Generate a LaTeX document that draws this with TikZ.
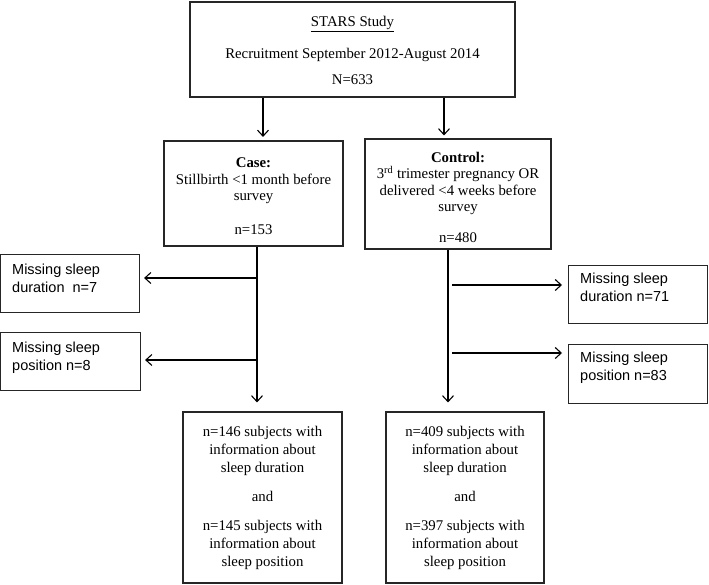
\documentclass[tikz,border=0pt]{standalone}
\usepackage{fontspec}
\setmainfont{Liberation Serif}
\newfontfamily\sansf{Liberation Sans}
\usetikzlibrary{arrows.meta}
\begin{document}
\begin{tikzpicture}[x=1pt,y=-1pt,
  box/.style={draw=black!85,line width=1.1pt,rectangle,inner sep=0pt,align=center,
    font=\fontsize{14.8pt}{16.5pt}\selectfont},
  lowbox/.style={box,font=\fontsize{14.8pt}{18pt}\selectfont},
  mbox/.style={draw=black!85,line width=1.1pt,rectangle,inner sep=0pt,anchor=north west},
  mtext/.style={anchor=north west,inner sep=0pt,align=left,
    font=\sansf\fontsize{14.5pt}{18pt}\selectfont},
  arr/.style={line width=1.1pt,-{Straight Barb[length=6pt,width=11pt,line width=1.1pt]}},
  ln/.style={line width=1pt}]
\useasboundingbox (0,0) rectangle (709,584);

\node[box,minimum width=325pt,minimum height=95pt] (top) at (352.5,49.5)
  {\rule{0pt}{12pt}\underline{STARS Study}\\[15.5pt]Recruitment September 2012-August 2014\\[9.5pt]N=633};

\node[box,minimum width=179pt,minimum height=105pt] (case) at (253.5,193.5)
  {\rule{0pt}{16pt}\textbf{Case:}\\Stillbirth <1 month before\\survey\\[17.5pt]n=153};

\node[box,minimum width=186pt,minimum height=110pt] (ctrl) at (458,194)
  {\rule{0pt}{17pt}\textbf{Control:}\\3\textsuperscript{rd} trimester pregnancy OR\\delivered <4 weeks before\\survey\\[14.5pt]n=480};

\node[lowbox,minimum width=159pt,minimum height=171pt] (bl) at (262.5,497.5)
  {n=146 subjects with\\information about\\sleep duration\\[11pt]and\\[11pt]n=145 subjects with\\information about\\sleep position};

\node[lowbox,minimum width=158pt,minimum height=171pt] (br) at (465,497.5)
  {n=409 subjects with\\information about\\sleep duration\\[11pt]and\\[11pt]n=397 subjects with\\information about\\sleep position};

\node[mbox,minimum width=139pt,minimum height=58pt] (m1) at (0,254) {};
\node[mbox,minimum width=140pt,minimum height=58pt] (m2) at (0,332) {};
\node[mbox,minimum width=139pt,minimum height=58pt] (m3) at (568,265) {};
\node[mbox,minimum width=139pt,minimum height=59pt] (m4) at (568,344) {};

\node[mtext] (t1) at (12,263.6) {Missing sleep\\duration\ \ n=7};
\node[mtext] (t2) at (12,341.6) {Missing sleep\\position n=8};
\node[mtext] (t3) at (580,272.6) {Missing sleep\\duration n=71};
\node[mtext] (t4) at (580,351.6) {Missing sleep\\position n=83};

\coordinate (tl) at (263,0);
\coordinate (tr) at (444,0);
\coordinate (cl) at (257,0);
\coordinate (cr) at (448,0);
\coordinate (h1) at (257,278);
\coordinate (h2) at (257,360);
\coordinate (h3) at (452,285);
\coordinate (h4) at (452,353);

\draw[arr,shorten >=3.5pt] (top.south -| tl) -- (case.north -| tl);
\draw[arr,shorten >=3pt] (top.south -| tr) -- (ctrl.north -| tr);
\draw[arr,shorten >=9pt] (case.south -| cl) -- (bl.north -| cl);
\draw[arr,shorten >=9pt] (ctrl.south -| cr) -- (br.north -| cr);
\draw[arr,shorten >=4pt] (h1) -- (m1.east |- h1);
\draw[arr,shorten >=4pt] (h2) -- (m2.east |- h2);
\draw[arr,shorten >=6pt] (h3) -- (m3.west |- h3);
\draw[arr,shorten >=6pt] (h4) -- (m4.west |- h4);
\end{tikzpicture}
\end{document}
